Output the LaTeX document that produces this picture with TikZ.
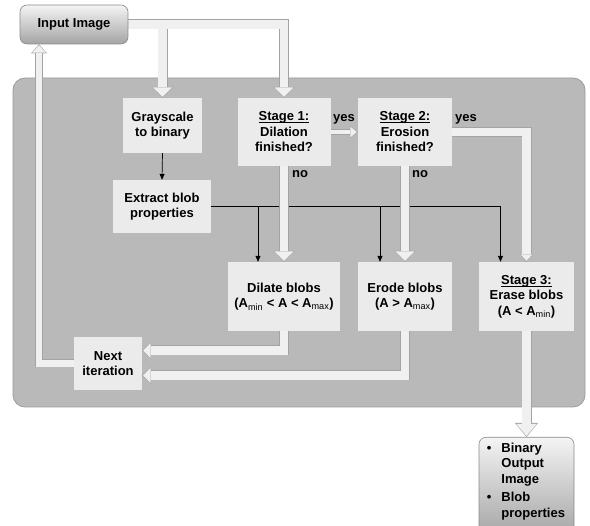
\documentclass[tikz,border=0pt]{standalone}
\usepackage{fontspec}
\setmainfont{Liberation Sans}
\usetikzlibrary{arrows.meta}
\definecolor{panelc}{HTML}{B9B9B9}
\definecolor{paneld}{HTML}{9C9C9C}
\definecolor{boxc}{HTML}{EBEBEB}
\definecolor{arrin}{HTML}{F0F0F0}
\definecolor{arrout}{HTML}{A3A3A3}
\definecolor{gtop}{HTML}{F4F4F4}
\definecolor{gbot}{HTML}{A4A4A4}
\definecolor{gedge}{HTML}{8A8A8A}
\newcommand\ulhead[1]{\setbox0\hbox{#1}\rlap{\rule[-2.3pt]{\wd0}{0.8pt}}\box0}
\pgfdeclarelayer{bg}
\pgfdeclarelayer{mid}
\pgfdeclarelayer{thin}
\pgfsetlayers{bg,thin,mid,main}
\begin{document}
\begin{tikzpicture}[x=1pt,y=-1pt,
  font=\fontsize{13}{15.5}\selectfont\bfseries,
  bx/.style 2 args={fill=boxc, inner sep=0pt, align=center, minimum width=#1, minimum height=#2},
  gbx/.style 2 args={top color=gtop, bottom color=gbot, draw=gedge, line width=0.6pt, rounded corners=7pt, inner sep=0pt, align=center, minimum width=#1, minimum height=#2},
  lbl/.style={inner sep=0pt},
  tarr/.style={draw=black, line width=0.7pt, -{Triangle[length=6pt,width=5pt]}},
  ao/.style n args={3}{draw=arrout, line width=#1, -{Triangle[length=#2,width=#3,line width=0pt]}},
  ai/.style n args={3}{draw=arrin, line width=#1, shorten >=1pt, -{Triangle[length=#2,width=#3,line width=0pt]}},
]
\useasboundingbox (0,0) rectangle (590,526);
\clip (0,0) rectangle (590,526);

% nodes
\node[gbx={108pt}{39pt}] (inp) at (74,24.5) {Input Image};
\node[bx={79pt}{55pt}] (gs) at (162.5,125.5) {Grayscale\\to binary};
\node[bx={93pt}{68pt}] (st1) at (284,132) {\ulhead{Stage 1:}\\Dilation\\finished?};
\node[bx={94pt}{68pt}] (st2) at (405,132) {\ulhead{Stage 2:}\\Erosion\\finished?};
\node[bx={98pt}{53pt}] (ext) at (162,206.5) {Extract blob\\properties};
\node[bx={112pt}{69pt}] (dil) at (284,296.5) {Dilate blobs\\(A\textsubscript{\mdseries min} < A < A\textsubscript{\mdseries max})};
\node[bx={94pt}{69pt}] (ero) at (405,296.5) {Erode blobs\\(A > A\textsubscript{\mdseries max})};
\node[bx={95pt}{69pt}] (st3) at (526.5,296.5) {\ulhead{Stage 3:}\\Erase blobs\\(A < A\textsubscript{\mdseries min})};
\node[bx={68pt}{53pt}] (nxt) at (108,363.5) {Next\\iteration};
\node[gbx={95pt}{100pt}, anchor=north] (out) at (526.5,437) {};
\node[anchor=north west, inner sep=0pt] (outtxt) at ([xshift=8pt,yshift=-4pt]out.north west)
  {\begin{tabular}{@{}l@{\hspace{10pt}}l@{}}\textbullet & Binary\\ & Output\\ & Image\\[3pt]\textbullet & Blob\\ & properties\end{tabular}};

\node[lbl] (yes1) at (344,119) {yes};
\node[lbl] (yes2) at (466,119) {yes};
\node[lbl] (no1) at (300,174) {no};
\node[lbl] (no2) at (420,174) {no};

% panel
\begin{pgfonlayer}{bg}
\draw[fill=panelc, draw=paneld, line width=0.8pt, rounded corners=12pt] (13,78) rectangle (585,407);
\end{pgfonlayer}

% thin arrows
\begin{pgfonlayer}{thin}
\draw[tarr] (gs.south) -- (ext.north);
\draw[tarr] (ext.east) -| ([xshift=-26pt]dil.north);
\draw[tarr] (ext.east) -| ([xshift=-25pt]ero.north);
\draw[tarr] (ext.east) -| ([xshift=-26pt]st3.north);
\end{pgfonlayer}

% wide hollow arrows
\begin{pgfonlayer}{mid}
\draw[ao={10pt}{11pt}{21pt}] (inp.east) -| (gs.north);
\draw[ao={10pt}{11pt}{21pt}] (inp.east) -| (st1.north);
\draw[ao={8pt}{9pt}{16pt}] (nxt.west) -| ([xshift=-35pt]inp.south);
\draw[ao={6pt}{8pt}{13pt}] (st1.east) -- (st2.west);
\draw[ao={10pt}{8pt}{14pt}] (st2.east) -| (st3.north);
\draw[ao={10pt}{11pt}{21pt}] (st1.south) -- (dil.north);
\draw[ao={10pt}{11pt}{21pt}] (st2.south) -- (ero.north);
\draw[ao={10pt}{9pt}{17pt}] (dil.south) |- ([yshift=13pt]nxt.east);
\draw[ao={10pt}{9pt}{17pt}] (ero.south) |- ([yshift=-12pt]nxt.east);
\draw[ao={10pt}{14pt}{23pt}] (st3.south) -- (out.north);

\draw[ai={8.6pt}{9.3pt}{18.6pt}] (inp.east) -| (gs.north);
\draw[ai={8.6pt}{9.3pt}{18.6pt}] (inp.east) -| (st1.north);
\draw[ai={6.6pt}{7.4pt}{13.8pt}] (nxt.west) -| ([xshift=-35pt]inp.south);
\draw[ai={4.6pt}{6.4pt}{10.6pt}] (st1.east) -- (st2.west);
\draw[ai={8.6pt}{6.4pt}{11.8pt}] (st2.east) -| (st3.north);
\draw[ai={8.6pt}{9.3pt}{18.6pt}] (st1.south) -- (dil.north);
\draw[ai={8.6pt}{9.3pt}{18.6pt}] (st2.south) -- (ero.north);
\draw[ai={8.6pt}{7.4pt}{14.8pt}] (dil.south) |- ([yshift=13pt]nxt.east);
\draw[ai={8.6pt}{7.4pt}{14.8pt}] (ero.south) |- ([yshift=-12pt]nxt.east);
\draw[ai={8.6pt}{12.2pt}{20.6pt}] (st3.south) -- (out.north);
\end{pgfonlayer}
\end{tikzpicture}
\end{document}
